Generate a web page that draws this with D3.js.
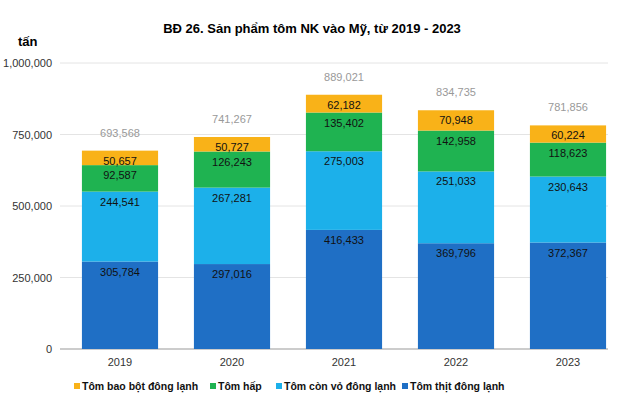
<!DOCTYPE html>
<html><head><meta charset="utf-8">
<script src="https://cdn.jsdelivr.net/npm/d3@7"></script>
<style>body{margin:0;background:#fff}</style>
</head><body>
<svg id="c" width="624" height="407"></svg>
<script>
var years = ['2019', '2020', '2021', '2022', '2023'];
var thit = [305784, 297016, 416433, 369796, 372367];
var conVo = [244541, 267281, 275003, 251033, 230643];
var hap = [92587, 126243, 135402, 142958, 118623];
var baoBot = [50657, 50727, 62182, 70948, 60224];
var totals = [693568, 741267, 889021, 834735, 781856];
var yTicks = [0, 250000, 500000, 750000, 1000000];

var series = [
  {name: 'Tôm thịt đông lạnh', values: thit, color: '#1f6fc5'},
  {name: 'Tôm còn vỏ đông lạnh', values: conVo, color: '#1cb0ea'},
  {name: 'Tôm hấp', values: hap, color: '#1fb351'},
  {name: 'Tôm bao bột đông lạnh', values: baoBot, color: '#f9b218'}
];

var svg = d3.select('#c');
var font = 'Liberation Sans, Arial, sans-serif';
var x = d3.scaleBand().domain(years).range([64, 624]).paddingInner(0.32).paddingOuter(0.16);
var y = d3.scaleLinear().domain([0, 1000000]).range([349, 63]);
var fmt = d3.format(',');

svg.append('text').attr('x', 312).attr('y', 33).attr('text-anchor', 'middle')
  .attr('font-family', font).attr('font-weight', 'bold').attr('font-size', 13)
  .text('BĐ 26. Sản phẩm tôm NK vào Mỹ, từ 2019 - 2023');
svg.append('text').attr('x', 18).attr('y', 46).attr('font-family', font)
  .attr('font-weight', 'bold').attr('font-size', 13).text('tấn');

svg.selectAll('line.grid').data(yTicks).enter().append('line')
  .attr('x1', 60).attr('x2', 608)
  .attr('y1', function(d) { return y(d); }).attr('y2', function(d) { return y(d); })
  .attr('stroke', function(d) { return d === 0 ? '#999' : '#e4e4e4'; });
svg.selectAll('text.yt').data(yTicks).enter().append('text')
  .attr('x', 52).attr('y', function(d) { return y(d) + 4; }).attr('text-anchor', 'end')
  .attr('font-family', font).attr('font-size', 11).attr('fill', '#333')
  .text(function(d) { return fmt(d); });

years.forEach(function(yr, i) {
  var base = 0;
  series.forEach(function(s) {
    var v = s.values[i];
    svg.append('rect').attr('x', x(yr)).attr('width', x.bandwidth())
      .attr('y', y(base + v)).attr('height', y(base) - y(base + v)).attr('fill', s.color);
    svg.append('text').attr('x', x(yr) + x.bandwidth() / 2).attr('y', y(base + v) + 14)
      .attr('text-anchor', 'middle').attr('font-family', font).attr('font-size', 11)
      .attr('fill', '#111').text(fmt(v));
    base += v;
  });
  svg.append('text').attr('x', x(yr) + x.bandwidth() / 2).attr('y', y(totals[i]) - 14)
    .attr('text-anchor', 'middle').attr('font-family', font).attr('font-size', 11)
    .attr('fill', '#999').text(fmt(totals[i]));
  svg.append('text').attr('x', x(yr) + x.bandwidth() / 2).attr('y', 366)
    .attr('text-anchor', 'middle').attr('font-family', font).attr('font-size', 11)
    .attr('fill', '#333').text(yr);
});

var legend = [series[3], series[2], series[1], series[0]];
var lx = [74, 210, 276, 402];
legend.forEach(function(s, i) {
  svg.append('rect').attr('x', lx[i]).attr('y', 383).attr('width', 6).attr('height', 6).attr('fill', s.color);
  svg.append('text').attr('x', lx[i] + 8).attr('y', 390).attr('font-family', font)
    .attr('font-weight', 'bold').attr('font-size', 10.5).attr('fill', '#111').text(s.name);
});
</script>
</body></html>
